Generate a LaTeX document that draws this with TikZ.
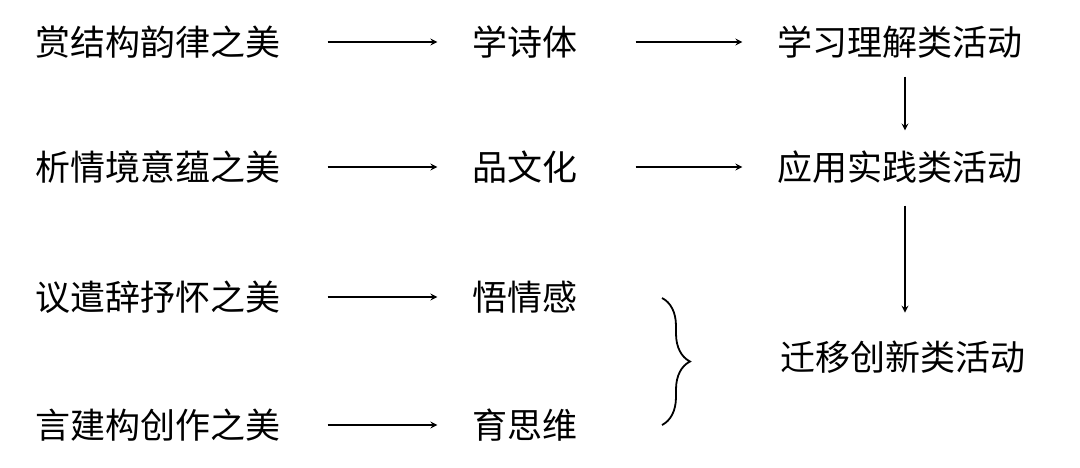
\documentclass[tikz,border=0pt]{standalone}
\usepackage{fontspec}
\newfontfamily\cjk{Noto Sans CJK SC}
\usetikzlibrary{decorations.pathreplacing}
\begin{document}
\begin{tikzpicture}[x=1pt,y=-1pt,
    lbl/.style={font=\cjk\fontsize{35}{38}\selectfont, inner sep=0pt},
    arr/.style={->, line width=2pt, >=stealth}]
        \useasboundingbox (0,0) rectangle (1080,467);
        % Define the columns
        \node[lbl] (A1) at (158,42) {赏结构韵律之美};
        \node[lbl] (A2) at (158,167) {析情境意蕴之美};
        \node[lbl] (A3) at (158,297) {议遣辞抒怀之美};
        \node[lbl] (A4) at (158,425) {言建构创作之美};

        \node[lbl] (B1) at (525,42) {学诗体};
        \node[lbl] (B2) at (525,167) {品文化};
        \node[lbl] (B3) at (525,297) {悟情感};
        \node[lbl] (B4) at (525,425) {育思维};

        \node[lbl] (C1) at (900,42) {学习理解类活动};
        \node[lbl] (C2) at (900,167) {应用实践类活动};
        \node[lbl] (C3) at (903,357) {迁移创新类活动};

        % Draw arrows
        \draw[arr] ([xshift=47pt]A1.east) -- ([xshift=-35pt]B1.west);
        \draw[arr] ([xshift=47pt]A2.east) -- ([xshift=-35pt]B2.west);
        \draw[arr] ([xshift=47pt]A3.east) -- ([xshift=-35pt]B3.west);
        \draw[arr] ([xshift=47pt]A4.east) -- ([xshift=-35pt]B4.west);
        \draw[arr] ([xshift=58pt]B1.east) -- ([xshift=-35pt]C1.west);
        \draw[arr] ([xshift=58pt]B2.east) -- ([xshift=-35pt]C2.west);
        \draw[arr] ([xshift=5pt,yshift=-18pt]C1.south) -- ([xshift=5pt,yshift=20pt]C2.north);
        \draw[arr] ([xshift=5pt,yshift=-22pt]C2.south) -- ([xshift=2pt,yshift=28pt]C3.north);

        % Draw brace
        \draw[line width=1.8pt, decorate, decoration={brace, amplitude=28pt, aspect=0.5}]
            (662,298) -- (662,425);
    \end{tikzpicture}
\end{document}
